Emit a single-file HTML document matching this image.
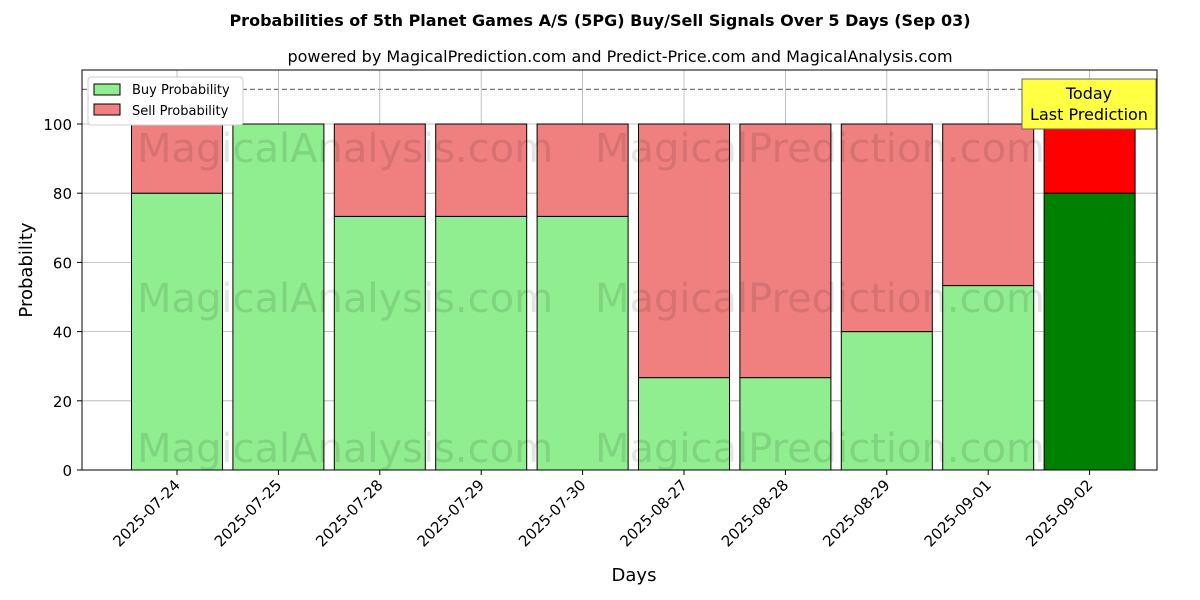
<!DOCTYPE html>
<html><head><meta charset="utf-8"><style>body{margin:0;background:#fff}svg{display:block;font-family:"DejaVu Sans","Liberation Sans",sans-serif}</style></head>
<body>
<svg id="chart" width="1200" height="600">
<text x="600" y="26" text-anchor="middle" font-size="16" font-weight="bold">Probabilities of 5th Planet Games A/S (5PG) Buy/Sell Signals Over 5 Days (Sep 03)</text>
<text x="620" y="62" text-anchor="middle" font-size="16">powered by MagicalPrediction.com and Predict-Price.com and MagicalAnalysis.com</text>
<g id="grid"></g><g id="bars"></g>
<g fill="#000" opacity="0.1" font-size="40">
<text x="345" y="162" text-anchor="middle">MagicalAnalysis.com</text><text x="820" y="162" text-anchor="middle">MagicalPrediction.com</text>
<text x="345" y="312" text-anchor="middle">MagicalAnalysis.com</text><text x="820" y="312" text-anchor="middle">MagicalPrediction.com</text>
<text x="345" y="462" text-anchor="middle">MagicalAnalysis.com</text><text x="820" y="462" text-anchor="middle">MagicalPrediction.com</text>
</g>
<g id="axes"></g>
<rect x="82" y="70" width="1075" height="400" fill="none" stroke="#000"/>
<g>
<rect x="88" y="77" width="155" height="48" fill="#fff" stroke="#ccc" rx="3"/>
<rect x="94" y="84" width="26" height="11" fill="#90ee90" stroke="#000"/>
<text x="132" y="94" font-size="13">Buy Probability</text>
<rect x="94" y="104" width="26" height="11" fill="#f08080" stroke="#000"/>
<text x="132" y="115" font-size="13">Sell Probability</text>
</g>
<g>
<rect x="1022" y="79" width="134" height="50" fill="#ffff44" stroke="#666"/>
<text x="1089" y="99" text-anchor="middle" font-size="16">Today</text>
<text x="1089" y="120" text-anchor="middle" font-size="16">Last Prediction</text>
</g>
<text x="634" y="581" text-anchor="middle" font-size="18">Days</text>
<text x="32" y="270" text-anchor="middle" font-size="18" transform="rotate(-90 32 270)">Probability</text>
</svg>
<script>
const categories=["2025-07-24","2025-07-25","2025-07-28","2025-07-29","2025-07-30","2025-08-27","2025-08-28","2025-08-29","2025-09-01","2025-09-02"];
const buyValues=[80,100,73.3,73.3,73.3,26.7,26.7,40,53.3,80];
const sellValues=[20,0,26.7,26.7,26.7,73.3,73.3,60,46.7,20];
const yTicks=[0,20,40,60,80,100];
const NS="http://www.w3.org/2000/svg";
const X=i=>177+101.4*i, Y=v=>470-v*3.46, BW=91;
function mk(t,a,p){const e=document.createElementNS(NS,t);for(const k in a)e.setAttribute(k,a[k]);p.appendChild(e);return e;}
const grid=document.getElementById('grid'),bars=document.getElementById('bars'),axes=document.getElementById('axes');
yTicks.forEach(v=>{
 const l=mk('line',{x1:82,x2:1157,y1:Y(v),y2:Y(v),stroke:'#b0b0b0','stroke-width':0.8},grid);
 
 
 const t=mk('text',{x:72,y:Y(v)+6,'text-anchor':'end','font-size':15},axes);t.textContent=v;
 
 
 mk('line',{x1:77,x2:82,y1:Y(v),y2:Y(v),stroke:'#000'},axes);
});
const dl=mk('line',{x1:82,x2:1157,y1:Y(110),y2:Y(110),stroke:'#777','stroke-dasharray':'5,3','stroke-width':1.2},grid);


categories.forEach((c,i)=>{
 const x=X(i);
 const g=mk('line',{x1:x,x2:x,y1:70,y2:470,stroke:'#b0b0b0','stroke-width':0.8},grid);
 
 
 const last=i===categories.length-1;
 const b=mk('rect',{x:x-BW/2,y:Y(buyValues[i]),width:BW,height:buyValues[i]*3.46,fill:last?'#008000':'#90ee90',stroke:'#000'},bars);
 
 
 const s=mk('rect',{x:x-BW/2,y:Y(buyValues[i]+sellValues[i]),width:BW,height:sellValues[i]*3.46,fill:last?'#ff0000':'#f08080',stroke:'#000'},bars);
 
 
 mk('line',{x1:x,x2:x,y1:470,y2:475,stroke:'#000'},axes);
 const t=mk('text',{x:x+4,y:486,'text-anchor':'end','font-size':15,transform:`rotate(-45 ${x+4} 486)`},axes);t.textContent=c;
 
 
});
</script>
</body></html>
